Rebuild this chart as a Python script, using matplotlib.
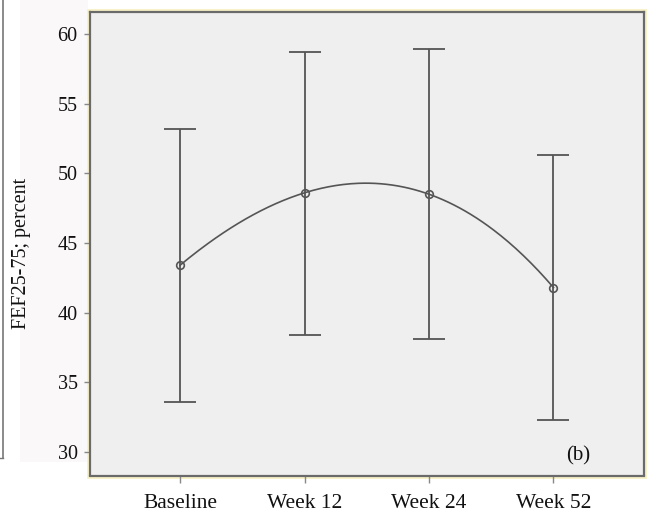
import numpy as np
import matplotlib
matplotlib.use("Agg")
import matplotlib.pyplot as plt
from matplotlib.patches import Rectangle

categories = ["Baseline", "Week 12", "Week 24", "Week 52"]
means = [43.4, 48.6, 48.5, 41.8]
upper = [53.2, 58.7, 58.9, 51.3]
lower = [33.6, 38.4, 38.1, 32.3]
yticks = [30, 35, 40, 45, 50, 55, 60]

plt.rcParams['font.family'] = ['Liberation Serif', 'DejaVu Serif']

W, H = 651, 512
fig = plt.figure(figsize=(W / 100, H / 100), dpi=100)
fig.patch.set_facecolor('white')

# faint left panel edge (part of neighbouring panel)
fig.add_artist(plt.Line2D([3 / W, 3 / W], [1 - 458 / H, 1.0], transform=fig.transFigure,
                          color='#777777', lw=1.2))
fig.add_artist(plt.Line2D([0, 3 / W], [1 - 458 / H, 1 - 458 / H], transform=fig.transFigure,
                          color='#777777', lw=1.0))
# faint background behind tick labels
fig.add_artist(Rectangle((20 / W, 1 - 462 / H), 68 / W, 462 / H, transform=fig.transFigure,
                         facecolor='#faf8f9', edgecolor='none', zorder=0))

ax_l, ax_r, ax_t, ax_b = 90, 644, 12, 475.5
# yellowish halo around frame
fig.add_artist(Rectangle(((ax_l - 3) / W, 1 - (ax_b + 3) / H), (ax_r - ax_l + 6) / W,
                         (ax_b - ax_t + 6) / H, transform=fig.transFigure,
                         facecolor='#f8f2c8', edgecolor='none', zorder=0))

ax = fig.add_axes([ax_l / W, 1 - ax_b / H, (ax_r - ax_l) / W, (ax_b - ax_t) / H])
ax.set_facecolor('#efefef')

x = np.arange(len(categories))
means_a = np.array(means)
yerr = np.vstack([means_a - np.array(lower), np.array(upper) - means_a])
ax.errorbar(x, means_a, yerr=yerr, fmt='none', ecolor='#555555', elinewidth=1.3,
            capsize=11.5, capthick=1.3)

# smooth interpolating curve through the means
coef = np.polyfit(x, means_a, len(x) - 1)
xs = np.linspace(x[0], x[-1], 200)
ax.plot(xs, np.polyval(coef, xs), color='#555555', lw=1.2)
ax.plot(x, means_a, 'o', mfc='none', mec='#555555', ms=5.5, mew=1.2)

ax.set_xlim(-0.723, 3.727)
ax.set_ylim(28.31, 61.58)
ax.set_xticks(x)
ax.set_xticklabels(categories)
ax.set_yticks(yticks)
ax.tick_params(axis='both', colors='#111111', length=4, width=1,
               color='#888888', direction='out')
ax.tick_params(axis='y', pad=5, labelsize=14.5)
ax.tick_params(axis='x', pad=8, length=5, labelsize=15.5)

for s in ax.spines.values():
    s.set_color('#6a6a6a')
    s.set_linewidth(1.6)

ax.text(3.2, 29.7, "(b)", fontsize=15, color='#111111', ha='center', va='center')

fig.text(22 / W, 1 - 253 / H, "FEF25-75; percent", rotation=90, fontsize=14.5,
         ha='center', va='center', color='#111111')

fig.savefig("out.png", dpi=100)
